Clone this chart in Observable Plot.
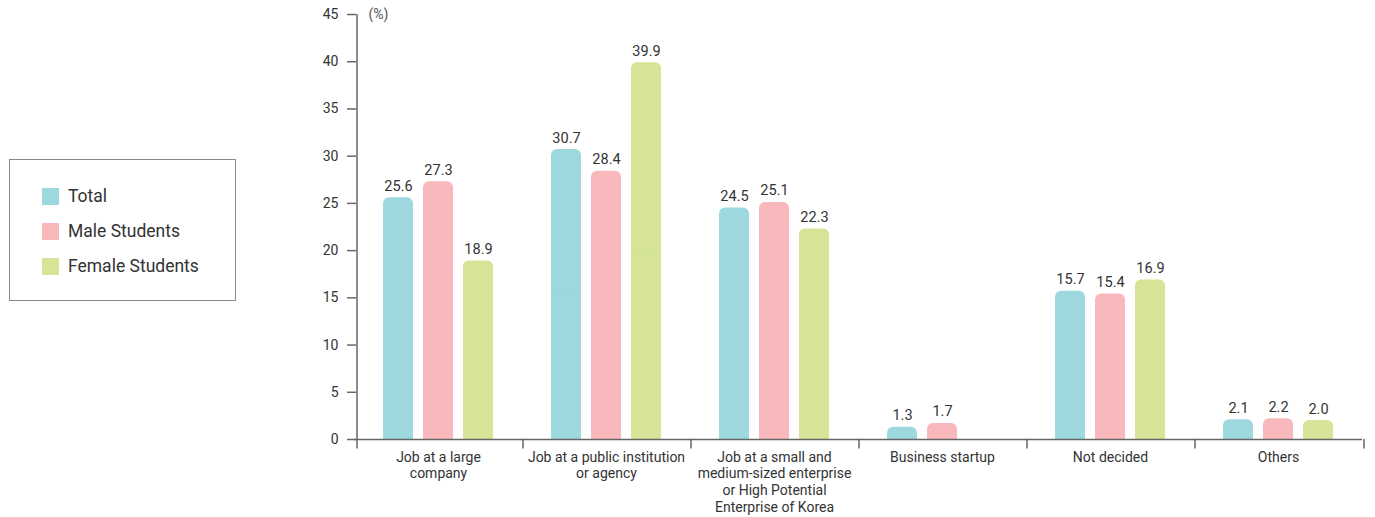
<!DOCTYPE html>
<html>
<head>
<meta charset="utf-8">
<script src="https://cdn.jsdelivr.net/npm/d3@7"></script>
<script src="https://cdn.jsdelivr.net/npm/@observablehq/plot@0.6"></script>
<style>
  body { margin: 0; background: #fff; font-family: Roboto, "Open Sans", sans-serif; }
  #wrap { position: relative; width: 1375px; height: 517px; }
  #legend { position: absolute; left: 9px; top: 159px; width: 225px; height: 140px; border: 1.5px solid #8a8a8a; }
  .item { position: absolute; left: 32px; display: flex; align-items: center; font-size: 17.5px; color: #333; }
  .sw { width: 17px; height: 17px; margin-right: 9px; }
</style>
</head>
<body>
<div id="wrap">
  <div id="chart"></div>
  <div id="legend"></div>
</div>
<script>
const categories = [
  "Job at a large company",
  "Job at a public institution or agency",
  "Job at a small and medium-sized enterprise or High Potential Enterprise of Korea",
  "Business startup",
  "Not decided",
  "Others"
];
const categoryLabels = [
  "Job at a large\ncompany",
  "Job at a public institution\nor agency",
  "Job at a small and\nmedium-sized enterprise\nor High Potential\nEnterprise of Korea",
  "Business startup",
  "Not decided",
  "Others"
];
const series = ["Total", "Male Students", "Female Students"];
const totalValues  = [25.6, 30.7, 24.5, 1.3, 15.7, 2.1];
const maleValues   = [27.3, 28.4, 25.1, 1.7, 15.4, 2.2];
const femaleValues = [18.9, 39.9, 22.3, null, 16.9, 2.0];
const colors = ["#9dd8de", "#f8b8bc", "#d5e497"];
const yTicks = [0, 5, 10, 15, 20, 25, 30, 35, 40, 45];
const unitLabel = "(%)";

const seriesValues = [totalValues, maleValues, femaleValues];
const data = categories.flatMap((c, i) =>
  series.map((s, j) => ({category: c, series: s, value: seriesValues[j][i]}))
).filter(d => d.value != null);
const labelData = categories.map((c, i) => ({category: c, label: categoryLabels[i]}));

const axisShift = 2;
const chart = Plot.plot({
  width: 1375,
  height: 517,
  marginLeft: 352,
  marginRight: 11,
  marginTop: 14,
  marginBottom: 78,
  style: {fontFamily: "Roboto, 'Open Sans', sans-serif", fontSize: "14px", color: "#333", background: "transparent"},
  fx: {domain: categories, padding: 0, axis: null},
  x: {domain: series, paddingInner: 0.244, paddingOuter: 0.683, axis: null},
  y: {domain: [0, 45], axis: null},
  color: {domain: series, range: colors},
  marks: [
    Plot.barY(data, {fx: "category", x: "series", y: "value", fill: "series", rx: 6}),
    Plot.barY(data, {fx: "category", x: "series", y1: 0, y2: d => d.value / 2, fill: "series"}),
    Plot.text(data, {fx: "category", x: "series", y: "value", text: d => d.value.toFixed(1),
      lineAnchor: "bottom", dy: -7, fontSize: 14.5, fill: "#333"}),
    Plot.ruleY([0], {stroke: "#666", strokeWidth: 1.5, dx: 0}),
    // separators below the baseline at category edges
    Plot.ruleX(categories.slice(1), {fx: d => d, x: () => series[0], y1: 0, y2: -1, dx: -43.5, stroke: "#666", strokeWidth: 1.5}),
    Plot.ruleX(categories.slice(-1), {fx: d => d, x: () => series[2], y1: 0, y2: -1, dx: 45.5, stroke: "#666", strokeWidth: 1.5}),
    // y axis line
    Plot.ruleX(categories.slice(0, 1), {fx: d => d, x: () => series[0], y1: -1, y2: 45, dx: -43.5 + axisShift, stroke: "#666", strokeWidth: 1.5}),
    Plot.axisY(yTicks, {tickSize: 9, tickPadding: 9, label: null, fontSize: 14, stroke: "#666", fill: "#333", strokeWidth: 1.5, dx: axisShift}),
    Plot.text(categories.slice(0, 1), {fx: d => d, x: () => series[0], y: 45, text: () => unitLabel,
      dx: -30, textAnchor: "start", fontSize: 14, fill: "#555"}),
    Plot.text(labelData, {fx: "category", text: "label", y: 0, lineAnchor: "top", dy: 10,
      fontSize: 14, lineHeight: 1.21, fill: "#333"})
  ]
});
document.getElementById("chart").appendChild(chart);

const legend = document.getElementById("legend");
series.forEach((s, i) => {
  const item = document.createElement("div");
  item.className = "item";
  item.style.top = (26 + i * 35) + "px";
  item.innerHTML = `<div class="sw" style="background:${colors[i]}"></div><span>${s}</span>`;
  legend.appendChild(item);
});
</script>
</body>
</html>
